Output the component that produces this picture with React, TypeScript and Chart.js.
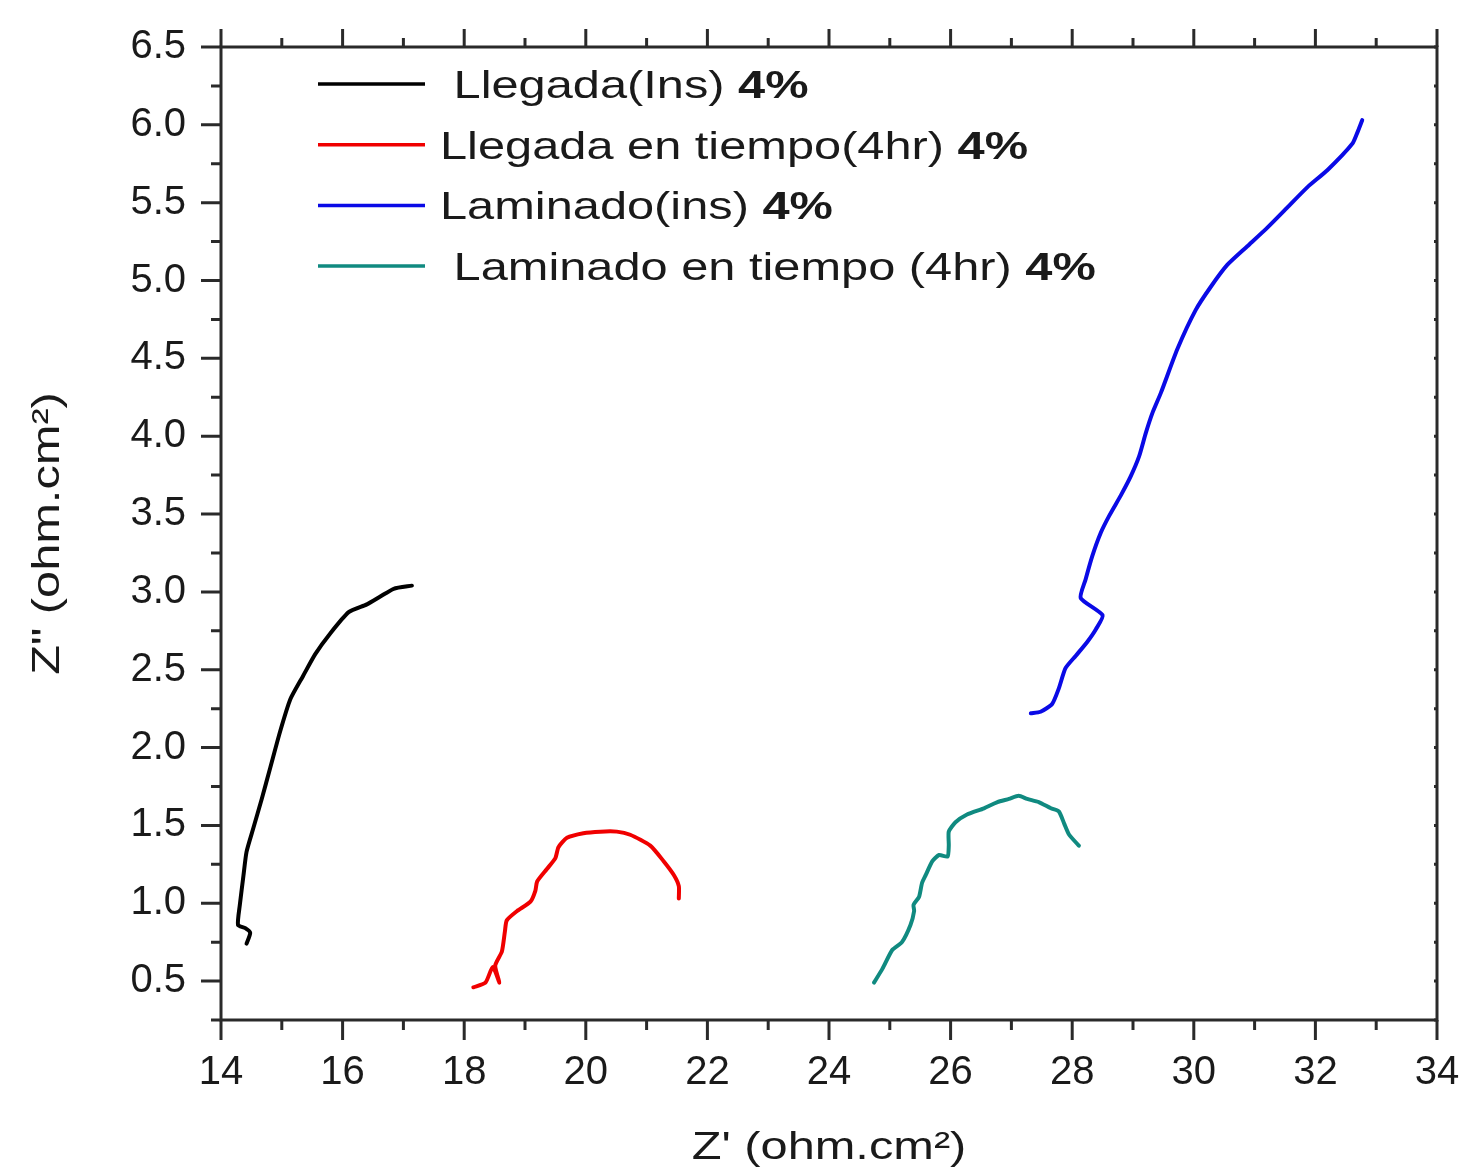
import React, { useEffect, useRef } from "react";
import { Chart, registerables } from "chart.js";

Chart.register(...registerables);

// ---- Tick labels ----
const xTicks = [14, 16, 18, 20, 22, 24, 26, 28, 30, 32, 34];
const yTicks = [0.5, 1.0, 1.5, 2.0, 2.5, 3.0, 3.5, 4.0, 4.5, 5.0, 5.5, 6.0, 6.5];

// ---- Axis titles ----
const xTitle = "Z' (ohm.cm²)";
const yTitle = 'Z" (ohm.cm²)';

// ---- Series ----
const llegadaInsX = [14.42, 14.48, 14.40, 14.28, 14.31, 14.37, 14.42, 14.53, 14.67, 14.81, 14.97, 15.14, 15.35, 15.55, 15.79, 16.10, 16.40, 16.62, 16.84, 17.14];
const llegadaInsY = [0.74, 0.81, 0.84, 0.86, 0.99, 1.18, 1.33, 1.48, 1.67, 1.87, 2.10, 2.31, 2.46, 2.60, 2.73, 2.87, 2.92, 2.97, 3.02, 3.04];

const llegadaTiempoX = [18.15, 18.35, 18.47, 18.58, 18.51, 18.62, 18.67, 18.70, 18.87, 19.09, 19.17, 19.20, 19.36, 19.50, 19.55, 19.69, 19.96, 20.24, 20.51, 20.73, 21.06, 21.28, 21.45, 21.53, 21.53];
const llegadaTiempoY = [0.46, 0.49, 0.59, 0.49, 0.60, 0.69, 0.82, 0.89, 0.95, 1.01, 1.08, 1.14, 1.22, 1.29, 1.36, 1.42, 1.45, 1.46, 1.46, 1.44, 1.37, 1.27, 1.18, 1.11, 1.03];

const laminadoInsX = [27.32, 27.48, 27.67, 27.78, 27.89, 28.06, 28.25, 28.39, 28.50, 28.14, 28.22, 28.33, 28.47, 28.61, 28.80, 28.96, 29.10, 29.21, 29.32, 29.46, 29.73, 30.03, 30.28, 30.55, 30.88, 31.21, 31.54, 31.87, 32.20, 32.61, 32.69, 32.77];
const laminadoInsY = [2.22, 2.23, 2.28, 2.38, 2.51, 2.59, 2.68, 2.76, 2.85, 2.96, 3.08, 3.23, 3.38, 3.49, 3.62, 3.74, 3.87, 4.02, 4.15, 4.28, 4.56, 4.81, 4.96, 5.10, 5.22, 5.34, 5.47, 5.60, 5.71, 5.88, 5.95, 6.03];

const laminadoTiempoX = [24.74, 24.88, 25.04, 25.20, 25.34, 25.40, 25.39, 25.48, 25.53, 25.59, 25.70, 25.81, 25.95, 25.97, 25.97, 26.08, 26.27, 26.55, 26.77, 26.96, 27.12, 27.26, 27.45, 27.65, 27.78, 27.87, 27.95, 28.11];
const laminadoTiempoY = [0.49, 0.58, 0.70, 0.75, 0.86, 0.95, 0.99, 1.04, 1.13, 1.18, 1.27, 1.31, 1.30, 1.37, 1.46, 1.52, 1.57, 1.61, 1.65, 1.67, 1.69, 1.67, 1.65, 1.61, 1.59, 1.51, 1.44, 1.37];

const seriesNames = [" Llegada(Ins) ", "Llegada en tiempo(4hr) ", "Laminado(ins) ", " Laminado en tiempo (4hr) "];
const seriesBold = ["4%", "4%", "4%", "4%"];
const seriesColors = ["#000000", "#f00000", "#0a0ae6", "#108a80"];

const FONT = "'Liberation Sans', Arial, sans-serif";
const TEXT = "#1a1a1a";
const AXIS = "#2a2a2a";
const STRETCH = 1.25;

const toPts = (xs: number[], ys: number[]) => xs.map((x, i) => ({ x, y: ys[i] }));

const framePlugin = {
  id: "frameTicksLegend",
  afterDraw(chart: any) {
    const ctx = chart.ctx;
    const { left, right, top, bottom } = chart.chartArea;
    const xs = chart.scales.x;
    const ys = chart.scales.y;
    ctx.save();
    ctx.strokeStyle = AXIS;
    ctx.lineWidth = 3;
    ctx.lineCap = "butt";
    ctx.strokeRect(left, top, right - left, bottom - top);

    // x ticks (bottom outward, top outward)
    for (let v = xTicks[0]; v <= xTicks[xTicks.length - 1] + 1e-9; v += 1) {
      const px = xs.getPixelForValue(v);
      const major = xTicks.includes(v);
      const lb = major ? 20 : 10;
      const lt = major ? 18 : 9;
      ctx.beginPath();
      ctx.moveTo(px, bottom);
      ctx.lineTo(px, bottom + lb);
      ctx.moveTo(px, top);
      ctx.lineTo(px, top - lt);
      ctx.stroke();
    }
    // y ticks (left outward, right tiny inward)
    for (let v = 0.25; v <= yTicks[yTicks.length - 1] + 1e-9; v += 0.25) {
      const py = ys.getPixelForValue(v);
      const major = yTicks.some((t) => Math.abs(t - v) < 1e-6);
      const l = major ? 20 : 10;
      ctx.beginPath();
      ctx.moveTo(left, py);
      ctx.lineTo(left - l, py);
      ctx.moveTo(right, py);
      ctx.lineTo(right - 3, py);
      ctx.stroke();
    }

    // axis titles (slightly stretched like the original figure)
    ctx.fillStyle = TEXT;
    ctx.font = `39px ${FONT}`;
    ctx.textAlign = "center";
    ctx.textBaseline = "middle";
    ctx.save();
    ctx.translate((left + right) / 2, 1148);
    ctx.scale(STRETCH, 1);
    ctx.fillText(xTitle, 0, 0);
    ctx.restore();
    ctx.save();
    ctx.translate(48, (top + bottom) / 2);
    ctx.rotate(-Math.PI / 2);
    ctx.scale(STRETCH, 1);
    ctx.fillText(yTitle, 0, 0);
    ctx.restore();

    // legend
    const fs = 39;
    const x0 = 318;
    const x1 = 425;
    const tx = 440;
    seriesNames.forEach((name, i) => {
      const ly = top + 37 + i * 60.7;
      ctx.strokeStyle = seriesColors[i];
      ctx.lineWidth = 3.5;
      ctx.beginPath();
      ctx.moveTo(x0, ly);
      ctx.lineTo(x1, ly);
      ctx.stroke();
      ctx.save();
      ctx.translate(tx, ly + 14);
      ctx.scale(STRETCH, 1);
      ctx.fillStyle = TEXT;
      ctx.textBaseline = "alphabetic";
      ctx.textAlign = "left";
      ctx.font = `${fs}px ${FONT}`;
      ctx.fillText(name, 0, 0);
      const w = ctx.measureText(name).width;
      ctx.font = `bold ${fs}px ${FONT}`;
      ctx.fillText(seriesBold[i], w, 0);
      ctx.restore();
    });
    ctx.restore();
  },
};

export default function App() {
  const ref = useRef<HTMLCanvasElement | null>(null);
  useEffect(() => {
    if (!ref.current) return;
    const mk = (label: string, xs: number[], ys: number[], color: string) => ({
      label,
      data: toPts(xs, ys),
      showLine: true,
      borderColor: color,
      backgroundColor: color,
      borderWidth: 4,
      pointRadius: 0,
      tension: 0.2,
      borderJoinStyle: "round" as const,
      borderCapStyle: "round" as const,
    });
    const chart = new Chart(ref.current, {
      type: "scatter",
      data: {
        datasets: [
          mk("Llegada(Ins) 4%", llegadaInsX, llegadaInsY, seriesColors[0]),
          mk("Llegada en tiempo(4hr) 4%", llegadaTiempoX, llegadaTiempoY, seriesColors[1]),
          mk("Laminado(ins) 4%", laminadoInsX, laminadoInsY, seriesColors[2]),
          mk("Laminado en tiempo (4hr) 4%", laminadoTiempoX, laminadoTiempoY, seriesColors[3]),
        ],
      },
      options: {
        animation: false,
        responsive: true,
        maintainAspectRatio: false,
        devicePixelRatio: 1,
        layout: { padding: { left: 0, top: 47, right: 27, bottom: 0 } },
        plugins: { legend: { display: false }, tooltip: { enabled: false } },
        scales: {
          x: {
            type: "linear",
            min: 14,
            max: 34,
            grid: { display: false, drawTicks: false },
            border: { display: false },
            afterBuildTicks: (s: any) => {
              s.ticks = xTicks.map((v) => ({ value: v }));
            },
            afterFit: (s: any) => {
              s.height = 155;
              s.paddingLeft = 0;
              s.paddingRight = 0;
            },
            ticks: {
              padding: 29,
              color: TEXT,
              font: { family: FONT, size: 40 },
              maxRotation: 0,
              autoSkip: false,
              callback: (v: any) => String(v),
            },
            title: { display: false },
          },
          y: {
            type: "linear",
            min: 0.25,
            max: 6.5,
            grid: { display: false, drawTicks: false },
            border: { display: false },
            afterBuildTicks: (s: any) => {
              s.ticks = yTicks.map((v) => ({ value: v }));
            },
            afterFit: (s: any) => {
              s.width = 221;
              s.paddingTop = 0;
              s.paddingBottom = 0;
            },
            ticks: {
              padding: 35,
              color: TEXT,
              font: { family: FONT, size: 40 },
              autoSkip: false,
              callback: (v: any) => Number(v).toFixed(1),
            },
            title: { display: false },
          },
        },
      },
      plugins: [framePlugin],
    });
    return () => chart.destroy();
  }, []);
  return (
    <div style={{ position: "fixed", left: 0, top: 0, width: 1464, height: 1175, background: "#fff" }}>
      <canvas ref={ref} />
    </div>
  );
}
